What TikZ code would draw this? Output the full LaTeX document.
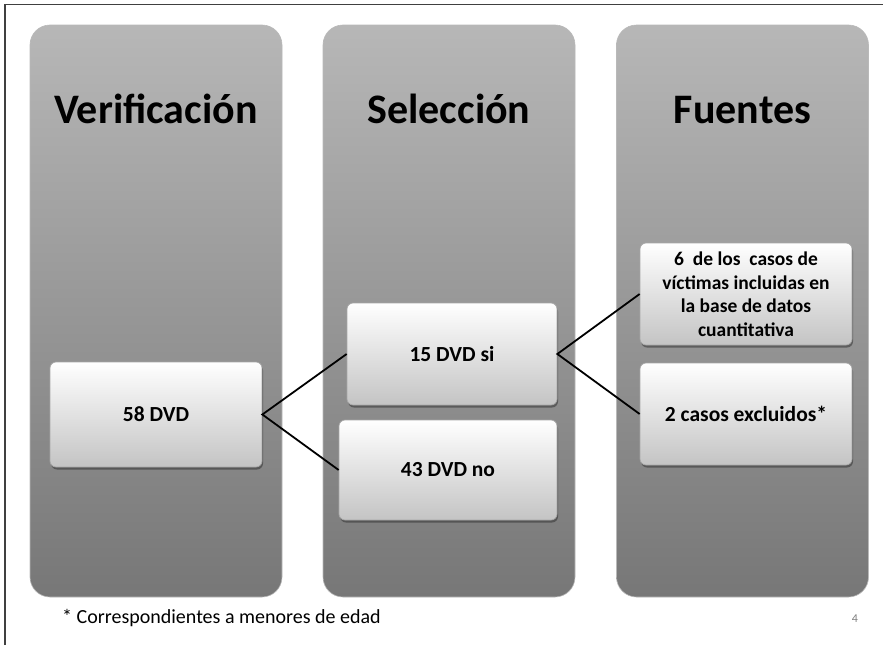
\documentclass[tikz,border=0pt]{standalone}
\usepackage{fontspec}
\setmainfont{Carlito}
\usetikzlibrary{shadows}
\definecolor{coltop}{HTML}{B7B7B7}
\definecolor{colbot}{HTML}{777777}
\definecolor{boxbot}{HTML}{C4C4C4}
\begin{document}
\begin{tikzpicture}[x=1pt,y=-1pt,
  column/.style={rectangle, rounded corners=20pt, minimum width=252pt, minimum height=572pt,
    top color=coltop, bottom color=colbot, draw=gray!55, line width=0.6pt, inner sep=0pt},
  coltitle/.style={font=\bfseries\fontsize{42}{46}\selectfont, text=black, inner sep=0pt, anchor=base},
  itembox/.style={rectangle, rounded corners=6pt, top color=white, bottom color=boxbot,
    draw=gray!70, line width=0.7pt, align=center, inner sep=2pt,
    font=\bfseries\fontsize{21.5}{25}\selectfont,
    drop shadow={shadow xshift=1pt, shadow yshift=-2.5pt, opacity=0.55, fill=black!80}},
  multibox/.style={itembox, font=\bfseries\fontsize{19.5}{23.5}\selectfont},
  link/.style={draw=black, line width=1.8pt}
]
\useasboundingbox (0,0) rectangle (883,645);
\fill[white] (0,0) rectangle (883,645);
\draw[line width=1.4pt, draw=black!75] (5,645) -- (5,4.5) -- (883,4.5);

\node[column] (colA) at (156,311) {};
\node[column] (colB) at (449,311) {};
\node[column] (colC) at (742.5,311) {};

\node[coltitle] (tA) at (156,123) {Verificación};
\node[coltitle] (tB) at (449,123) {Selección};
\node[coltitle] (tC) at (742.5,123) {Fuentes};

\node[itembox, minimum width=212pt, minimum height=105pt] (b58) at (156,414.5) {58 DVD};
\node[itembox, minimum width=210pt, minimum height=102pt] (b15) at (452,354) {15 DVD si};
\node[itembox, minimum width=218pt, minimum height=100pt] (b43) at (448,470) {43 DVD no};
\node[multibox, minimum width=212pt, minimum height=102pt] (b6) at (746,294)
  {6\ \ de los\ \ casos de\\víctimas incluidas en\\la base de datos\\cuantitativa};
\node[itembox, minimum width=212pt, minimum height=102pt] (b2) at (746,414) {2 casos excluidos*};

\draw[link] (b15.west) -- (b58.east) -- (b43.west);
\draw[link] (b6.west) -- (b15.east) -- (b2.west);

\node[anchor=base west, inner sep=0pt, font=\fontsize{20}{23}\selectfont] (foot) at (62,623)
  {* Correspondientes a menores de edad};
\node[anchor=base, inner sep=0pt, font=\fontsize{12}{14}\selectfont, text=gray] (pnum) at (855,622) {4};
\end{tikzpicture}
\end{document}
